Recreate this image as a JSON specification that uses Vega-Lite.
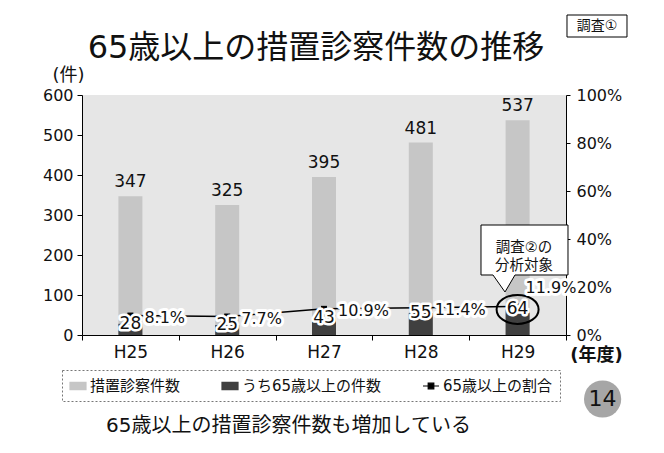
{
  "$schema": "https://vega.github.io/schema/vega-lite/v6.json",
  "width": 484,
  "height": 240,
  "autosize": {"type": "none"},
  "padding": {"left": 82, "top": 95, "right": 98, "bottom": 118},
  "background": "white",
  "title": {"text": "65歳以上の措置診察件数の推移", "fontSize": 32, "fontWeight": "normal", "color": "#111", "anchor": "middle", "frame": "group", "dx": -8, "baseline": "middle", "offset": -67},
  "config": {
    "font": "DejaVu Sans, Noto Sans CJK JP",
    "view": {"fill": "#e6e6e6", "stroke": null},
    "axis": {"grid": false, "domainColor": "#000", "domainWidth": 1, "tickColor": "#000", "labelColor": "#111", "titleColor": "#111", "titleFontWeight": "normal"}
  },
  "data": {"values": [
    {"year": "H25", "total": 347, "senior": 28, "rate": 0.081},
    {"year": "H26", "total": 325, "senior": 25, "rate": 0.077},
    {"year": "H27", "total": 395, "senior": 43, "rate": 0.109},
    {"year": "H28", "total": 481, "senior": 55, "rate": 0.114},
    {"year": "H29", "total": 537, "senior": 64, "rate": 0.119}
  ]},
  "encoding": {
    "x": {"field": "year", "type": "nominal", "sort": null, "scale": {"paddingInner": 0, "paddingOuter": 0},
      "axis": {"labelAngle": 0, "labelFontSize": 17, "tickBand": "extent", "tickSize": 5, "labelPadding": 4, "title": "65歳以上の措置診察件数も増加している", "titleFontSize": 20, "titleX": 206, "titleY": 90, "titleAlign": "center", "titleBaseline": "middle"}}
  },
  "layer": [
    {
      "layer": [
        {"mark": {"type": "bar", "width": 24},
         "encoding": {
           "y": {"field": "total", "type": "quantitative", "scale": {"domain": [0, 600]},
             "axis": {"orient": "left", "values": [0, 100, 200, 300, 400, 500, 600], "labelFontSize": 16, "tickSize": 5, "labelPadding": 4, "title": "(件)", "titleAngle": 0, "titleX": -14, "titleY": -20, "titleAlign": "center", "titleBaseline": "middle", "titleFontSize": 18}},
           "color": {"datum": "措置診察件数",
             "scale": {"domain": ["措置診察件数", "うち65歳以上の件数", "65歳以上の割合"], "range": ["#c6c6c6", "#404040", "#000000"]},
             "legend": {"orient": "none", "legendX": -20, "legendY": 275, "direction": "horizontal", "columns": 3, "gridAlign": "none", "columnPadding": 38, "title": null, "labelFontSize": 15, "labelColor": "#111", "symbolSize": 256, "padding": 7, "strokeColor": "#777", "fillColor": "white", "labelOffset": 3, "labelLimit": 300,
               "encode": {
                 "legend": {"update": {"strokeDash": {"value": [2, 2]}}},
                 "symbols": {"update": {
                   "shape": {"signal": "datum.value === '65歳以上の割合' ? 'M-1,0H1M-0.35,-0.35H0.35V0.35H-0.35Z' : 'M-1,-0.45H1V0.45H-1Z'"},
                   "fill": {"scale": "color", "field": "value"},
                   "stroke": {"scale": "color", "field": "value"},
                   "strokeWidth": {"value": 1.2},
                   "opacity": {"value": 1},
                   "fillOpacity": {"value": 1}
                 }}
               }}}
         }},
        {"mark": {"type": "bar", "width": 24},
         "encoding": {
           "y": {"field": "senior", "type": "quantitative", "scale": {"domain": [0, 600]},
             "axis": {"orient": "left", "values": [0, 100, 200, 300, 400, 500, 600], "labelFontSize": 16, "tickSize": 5, "labelPadding": 4, "title": "(件)", "titleAngle": 0, "titleX": -14, "titleY": -20, "titleAlign": "center", "titleBaseline": "middle", "titleFontSize": 18}},
           "color": {"datum": "うち65歳以上の件数"}
         }},
        {"mark": {"type": "text", "baseline": "bottom", "dy": -5, "fontSize": 17, "color": "#111"},
         "encoding": {
           "y": {"field": "total", "type": "quantitative", "scale": {"domain": [0, 600]},
             "axis": {"orient": "left", "values": [0, 100, 200, 300, 400, 500, 600], "labelFontSize": 16, "tickSize": 5, "labelPadding": 4, "title": "(件)", "titleAngle": 0, "titleX": -14, "titleY": -20, "titleAlign": "center", "titleBaseline": "middle", "titleFontSize": 18}},
           "text": {"field": "total", "type": "quantitative"}
         }}
      ]
    },
    {
      "layer": [
        {"mark": {"type": "line", "strokeWidth": 1.5, "point": {"shape": "square", "size": 36, "filled": true, "opacity": 1}},
         "encoding": {
           "y": {"field": "rate", "type": "quantitative", "scale": {"domain": [0, 1]},
             "axis": {"orient": "right", "format": ".0%", "values": [0, 0.2, 0.4, 0.6, 0.8, 1], "labelFontSize": 16, "labelPadding": 6, "tickSize": 4, "title": "(年度)", "titleAngle": 0, "titleX": 30, "titleY": 260, "titleFontSize": 18, "titleFontWeight": "bold", "titleAlign": "center", "titleBaseline": "middle"}},
           "color": {"datum": "65歳以上の割合"}
         }}
      ]
    },
    {
      "layer": [
        {"mark": {"type": "text", "fontSize": 17, "baseline": "middle", "dy": 0, "stroke": "white", "strokeWidth": 5, "strokeJoin": "round", "fill": "white"},
         "encoding": {
           "y": {"field": "senior", "type": "quantitative", "scale": {"domain": [0, 600]}, "axis": null},
           "text": {"field": "senior", "type": "quantitative"}
         }},
        {"mark": {"type": "text", "fontSize": 17, "baseline": "middle", "dy": 0, "color": "#111"},
         "encoding": {
           "y": {"field": "senior", "type": "quantitative"},
           "text": {"field": "senior", "type": "quantitative"}
         }},
        {"transform": [{"filter": "datum.year === 'H29'"}],
         "mark": {"type": "point", "shape": "M-36.6,-84.4H50.4V-34.4H-2.6L-12.6,-17.4L-24.6,-34.4H-36.6Z", "size": 4, "filled": true, "fill": "white", "stroke": "#000", "strokeWidth": 1, "opacity": 1},
         "encoding": {"y": {"field": "senior", "type": "quantitative"}}},
        {"transform": [{"filter": "datum.year === 'H29'"}],
         "mark": {"type": "text", "text": "調査②の\n分析対象", "lineBreak": "\n", "lineHeight": 18, "fontSize": 14.5, "align": "center", "baseline": "middle", "dx": 6.5, "dy": -61, "color": "#111"},
         "encoding": {"y": {"field": "senior", "type": "quantitative"}}},
        {"transform": [{"filter": "datum.year === 'H29'"}],
         "mark": {"type": "point", "shape": "M-21,0C-21,-8 -11.6,-14.5 0,-14.5C11.6,-14.5 21,-8 21,0C21,8 11.6,14.5 0,14.5C-11.6,14.5 -21,8 -21,0Z", "size": 4, "filled": false, "stroke": "#000", "strokeWidth": 2, "opacity": 1},
         "encoding": {"y": {"field": "senior", "type": "quantitative"}}},
        {"data": {"values": [{"label": "調査①"}]},
         "mark": {"type": "point", "shape": "M49.4,-80H109.4V-58H49.4Z", "size": 4, "filled": true, "fill": "white", "stroke": "#000", "strokeWidth": 1, "opacity": 1},
         "encoding": {"x": {"datum": "H29", "type": "nominal"}, "y": {"datum": 600, "type": "quantitative"}}},
        {"data": {"values": [{"label": "調査①"}]},
         "mark": {"type": "text", "fontSize": 14, "align": "center", "baseline": "middle", "dx": 79.4, "dy": -69, "color": "#111"},
         "encoding": {"x": {"datum": "H29", "type": "nominal"}, "y": {"datum": 600, "type": "quantitative"}, "text": {"field": "label"}}},
        {"data": {"values": [{"label": "14"}]},
         "mark": {"type": "point", "shape": "circle", "size": 1385, "filled": true, "color": "#a6a6a6", "opacity": 1, "xOffset": 85, "yOffset": 64},
         "encoding": {"x": {"datum": "H29", "type": "nominal"}, "y": {"datum": 0, "type": "quantitative"}}},
        {"data": {"values": [{"label": "14"}]},
         "mark": {"type": "text", "fontSize": 22, "align": "center", "baseline": "middle", "dx": 85, "dy": 64, "color": "#111"},
         "encoding": {"x": {"datum": "H29", "type": "nominal"}, "y": {"datum": 0, "type": "quantitative"}, "text": {"field": "label"}}}
      ]
    },
    {
      "layer": [
        {"transform": [{"filter": "datum.year !== 'H29'"}],
         "mark": {"type": "text", "align": "left", "baseline": "middle", "dx": 14, "dy": 2, "fontSize": 16, "stroke": "white", "strokeWidth": 6, "strokeJoin": "round", "fill": "white"},
         "encoding": {
           "y": {"field": "rate", "type": "quantitative", "scale": {"domain": [0, 1]}, "axis": null},
           "text": {"field": "rate", "type": "quantitative", "format": ".1%"}
         }},
        {"transform": [{"filter": "datum.year !== 'H29'"}],
         "mark": {"type": "text", "align": "left", "baseline": "middle", "dx": 14, "dy": 2, "fontSize": 16, "color": "#111"},
         "encoding": {
           "y": {"field": "rate", "type": "quantitative"},
           "text": {"field": "rate", "type": "quantitative", "format": ".1%"}
         }},
        {"transform": [{"filter": "datum.year === 'H29'"}],
         "mark": {"type": "text", "align": "left", "baseline": "middle", "dx": 8, "dy": -18, "fontSize": 16, "stroke": "white", "strokeWidth": 6, "strokeJoin": "round", "fill": "white"},
         "encoding": {
           "y": {"field": "rate", "type": "quantitative"},
           "text": {"field": "rate", "type": "quantitative", "format": ".1%"}
         }},
        {"transform": [{"filter": "datum.year === 'H29'"}],
         "mark": {"type": "text", "align": "left", "baseline": "middle", "dx": 8, "dy": -18, "fontSize": 16, "color": "#111"},
         "encoding": {
           "y": {"field": "rate", "type": "quantitative"},
           "text": {"field": "rate", "type": "quantitative", "format": ".1%"}
         }}
      ]
    }
  ],
  "resolve": {"scale": {"y": "independent"}}
}
